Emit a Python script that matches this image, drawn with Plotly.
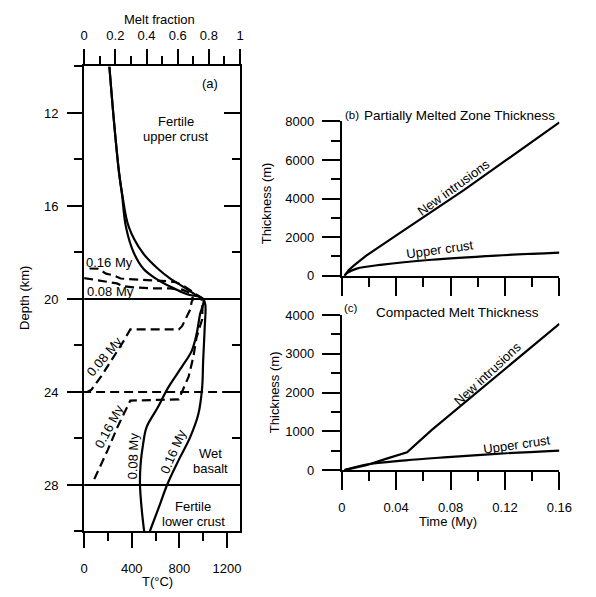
import plotly.graph_objects as go

W, H = 596, 597

# ---- Panel (a): temperature profiles, T (°C) against depth (km) ----
depth_temp_008 = [10, 12.5, 14.6, 15.5, 16.9, 18.0, 18.7, 19.1, 19.5, 19.8, 20.0,
                  20.67, 21.5, 22.23, 22.9, 23.8, 24.67, 25.52, 26.22, 27.06, 27.96, 29.01, 30]
temp_008 = [212, 253, 294, 318, 351, 416, 498, 596, 735, 865, 1000,
            973, 945, 904, 823, 707, 618, 524, 496, 475, 469, 483, 504]

depth_temp_016 = [10, 12.5, 14.6, 15.5, 16.9, 18.0, 18.7, 19.1, 19.5, 19.8, 20.0,
                  20.25, 21.22, 22.65, 23.83, 24.96, 25.94, 26.91, 27.96, 29.0, 30]
temp_016 = [212, 253, 294, 320, 375, 490, 620, 718, 841, 931, 1000,
            1018, 1013, 1000, 991, 959, 891, 796, 700, 625, 551]

# ---- Panel (a): melt-fraction profiles ----
depth_melt_008 = [19.1, 19.2, 19.25, 19.33, 19.45, 19.5, 19.54, 19.54, 19.6, 19.75, 20.0,
                  20.11, 20.46, 21.17, 21.31, 21.31, 21.8, 22.48, 23.33, 23.9, 24.0]
melt_008 = [0.0, 0.09, 0.14, 0.21, 0.25, 0.315, 0.42, 0.54, 0.63, 0.68, 0.70,
            0.69, 0.68, 0.628, 0.607, 0.296, 0.254, 0.192, 0.109, 0.047, 0.02]

depth_melt_016 = [18.69, 18.7, 18.91, 18.99, 19.12, 19.16, 19.2, 19.24, 19.28, 19.49, 19.7,
                  19.9, 20.1, 20.88, 21.65, 22.5, 23.34, 24.04, 24.32, 24.37, 24.67,
                  25.52, 26.5, 27.62, 27.75]
melt_016 = [0.034, 0.09, 0.14, 0.19, 0.234, 0.315, 0.433, 0.545, 0.589, 0.651, 0.70,
            0.74, 0.76, 0.757, 0.721, 0.70, 0.67, 0.628, 0.607, 0.296, 0.275,
            0.213, 0.151, 0.078, 0.065]

# lithology boundaries (km)
boundary_solid = [20, 28]
boundary_dashed = [24]

# ---- Panel (b): partially melted zone thickness (m) against time (My) ----
time_pmz_new = [0.002, 0.005, 0.009, 0.018, 0.042, 0.066, 0.09, 0.12, 0.16]
pmz_new = [0, 290, 540, 1045, 2180, 3300, 4450, 5950, 7950]
time_pmz_upper = [0.002, 0.004, 0.011, 0.03, 0.066, 0.1135, 0.16]
pmz_upper = [0, 150, 370, 580, 830, 1045, 1200]

# ---- Panel (c): compacted melt thickness (m) against time (My) ----
time_cmt_new = [0.002, 0.018, 0.033, 0.048, 0.066, 0.085, 0.1016, 0.1254, 0.16]
cmt_new = [0, 126, 294, 461, 1031, 1585, 2055, 2742, 3774]
time_cmt_upper = [0.002, 0.018, 0.047, 0.078, 0.1135, 0.16]
cmt_upper = [0, 143, 252, 335, 420, 503]


def fx(x):
    return x / W


def fy(y):
    return 1 - y / H


FONT = "Liberation Sans, Arial, Helvetica, sans-serif"
LINE = dict(color="black", width=2.2)
DASH = dict(color="black", width=2.2, dash="9px,5px")

A_X = [fx(82.5), fx(243)]
A_Y = [fy(538), fy(61)]
BC_X = [fx(347.7), fx(571.7)]
B_Y = [fy(275.7), fy(117.3)]
C_Y = [fy(475), fy(316)]

fig = go.Figure()

# temperature profiles
fig.add_trace(go.Scatter(x=temp_008, y=depth_temp_008, mode="lines", line=LINE,
                         xaxis="x", yaxis="y", line_shape="spline"))
fig.add_trace(go.Scatter(x=temp_016, y=depth_temp_016, mode="lines", line=LINE,
                         xaxis="x", yaxis="y", line_shape="spline"))
# melt fraction profiles
fig.add_trace(go.Scatter(x=melt_008, y=depth_melt_008, mode="lines", line=DASH,
                         xaxis="x2", yaxis="y"))
fig.add_trace(go.Scatter(x=melt_016, y=depth_melt_016, mode="lines", line=DASH,
                         xaxis="x2", yaxis="y"))
# anchor trace for the right-hand depth axis
fig.add_trace(go.Scatter(x=[None], y=[None], xaxis="x", yaxis="y2", showlegend=False))

# panel (b)
fig.add_trace(go.Scatter(x=time_pmz_new, y=pmz_new, mode="lines", line=LINE,
                         xaxis="x3", yaxis="y3", cliponaxis=False))
fig.add_trace(go.Scatter(x=time_pmz_upper, y=pmz_upper, mode="lines", line=LINE,
                         xaxis="x3", yaxis="y3", line_shape="spline", cliponaxis=False))
# panel (c): the intrusion curve has a sharp break near 0.048 My
fig.add_trace(go.Scatter(x=time_cmt_new, y=cmt_new, mode="lines", line=LINE,
                         xaxis="x4", yaxis="y4", cliponaxis=False))
fig.add_trace(go.Scatter(x=time_cmt_upper, y=cmt_upper, mode="lines", line=LINE,
                         xaxis="x4", yaxis="y4", line_shape="spline", cliponaxis=False))

# boundaries across panel (a)
for d in boundary_solid:
    fig.add_shape(type="line", xref="paper", yref="y", x0=A_X[0], x1=A_X[1], y0=d, y1=d,
                  line=dict(color="black", width=2))
for d in boundary_dashed:
    fig.add_shape(type="line", xref="paper", yref="y", x0=fx(66), x1=A_X[1], y0=d, y1=d,
                  line=dict(color="black", width=2, dash="9px,5px"))

base_axis = dict(showline=True, linecolor="black", linewidth=2, showgrid=False,
                 zeroline=False, ticks="outside", tickcolor="black", tickwidth=2,
                 tickfont=dict(family=FONT, size=13, color="black"))


def minor(dt, length=8, ticks="outside"):
    return dict(dtick=dt, ticklen=length, tickwidth=2, tickcolor="black",
                ticks=ticks, showgrid=False)


fig.update_layout(
    width=W, height=H, margin=dict(l=0, r=0, t=0, b=0),
    paper_bgcolor="white", plot_bgcolor="white", showlegend=False,
    font=dict(family=FONT, size=13, color="black"),
    xaxis=dict(base_axis, domain=A_X, anchor="y", range=[0, 1310], tick0=0, dtick=400,
               ticklen=15, minor=minor(200), ticklabelstandoff=9),
    xaxis2=dict(base_axis, domain=A_X, anchor="y", overlaying="x", side="top",
                range=[0, 1], tick0=0, dtick=0.2, ticklen=15, minor=minor(0.1),
                ticklabelstandoff=4),
    yaxis=dict(base_axis, domain=A_Y, anchor="x", range=[30, 10], tick0=12, dtick=4,
               ticklen=15, minor=minor(2), ticklabelstandoff=6),
    yaxis2=dict(base_axis, domain=A_Y, anchor="x", overlaying="y", side="right",
                range=[30, 10], tick0=12, dtick=4, ticks="inside", ticklen=16,
                showticklabels=False, minor=minor(2, 8, "inside")),
    xaxis3=dict(base_axis, domain=BC_X, anchor="y3", range=[0, 0.16], tick0=0, dtick=0.04,
                ticklen=18, minor=minor(0.02, 9), showticklabels=False),
    yaxis3=dict(base_axis, domain=B_Y, anchor="x3", range=[0, 8000], tick0=0, dtick=2000,
                ticklen=18, minor=minor(1000, 9), ticklabelstandoff=5),
    xaxis4=dict(base_axis, domain=BC_X, anchor="y4", range=[0, 0.16], tick0=0, dtick=0.04,
                ticklen=18, minor=minor(0.02, 9), ticklabelstandoff=6),
    yaxis4=dict(base_axis, domain=C_Y, anchor="x4", range=[0, 4000], tick0=0, dtick=1000,
                ticklen=18, minor=minor(500, 9), ticklabelstandoff=5),
)


def note_px(text, x, y, size=13, angle=0):
    fig.add_annotation(text=text, x=fx(x), y=fy(y), xref="paper", yref="paper",
                       showarrow=False, textangle=angle, xanchor="center", yanchor="middle",
                       font=dict(family=FONT, size=size, color="black"))


def note_data(text, x, y, xr, yr, size=13, angle=0):
    fig.add_annotation(text=text, x=x, y=y, xref=xr, yref=yr, showarrow=False,
                       textangle=angle, xanchor="center", yanchor="middle",
                       font=dict(family=FONT, size=size, color="black"))


# axis titles
note_px("Melt fraction", 160, 12.5)
note_px("T(°C)", 158, 589)
note_px("Depth (km)", 21, 298, angle=-90)
note_px("Thickness (m)", 271, 201, angle=-90)
note_px("Thickness (m)", 278, 395, angle=-90)
note_px("Time (My)", 457, 528)

# panel headings
note_px("(b)", 358.3, 110.7, size=11.5)
note_px("Partially Melted Zone Thickness", 469, 111, size=13.5)
note_px("(c)", 357.3, 308.3, size=11.5)
note_px("Compacted Melt Thickness", 467, 313, size=13.5)

# panel (a) labels
note_data("(a)", 1057, 10.74, "x", "y")
note_data("Fertile", 771, 12.38, "x", "y")
note_data("upper crust", 771, 13.0, "x", "y")
note_data("0.16 My", 216, 18.43, "x", "y")
note_data("0.08 My", 224, 19.69, "x", "y")
note_data("0.08 My", 170, 22.47, "x", "y", angle=-50)
note_data("0.16 My", 211, 25.49, "x", "y", angle=-62)
note_data("0.08 My", 415, 26.75, "x", "y", angle=-88)
note_data("0.16 My", 749, 26.57, "x", "y", angle=-67)
note_data("Wet", 1065, 26.66, "x", "y")
note_data("basalt", 1065, 27.29, "x", "y")
note_data("Fertile", 918, 28.93, "x", "y")
note_data("lower crust", 918, 29.56, "x", "y")

# panel (b) and (c) curve labels
note_data("New intrusions", 0.0823, 4560, "x3", "y3", angle=-36)
note_data("Upper crust", 0.0719, 1384, "x3", "y3", angle=-8)
note_data("New intrusions", 0.1075, 2480, "x4", "y4", angle=-43)
note_data("Upper crust", 0.129, 672, "x4", "y4", angle=-8)

fig.write_html("out.html")
